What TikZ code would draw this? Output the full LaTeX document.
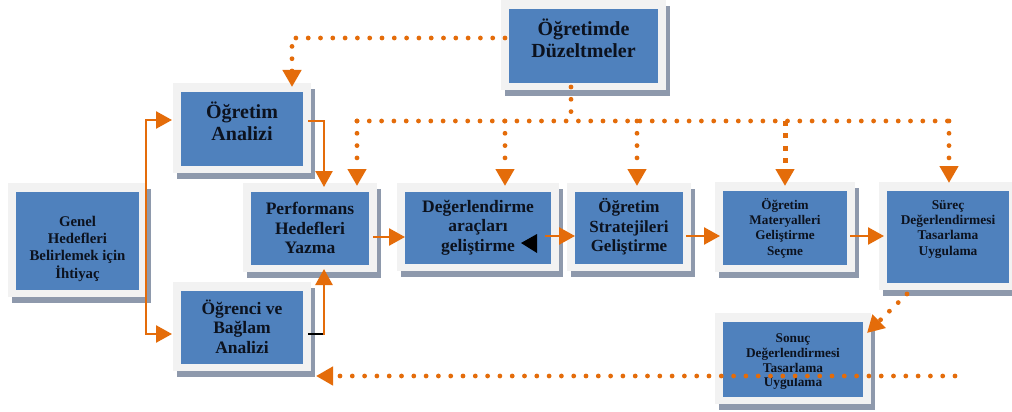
\documentclass[tikz,border=0pt]{standalone}
\usepackage{fontspec}
\setmainfont{Liberation Serif}
\usetikzlibrary{arrows.meta}
\definecolor{boxblue}{HTML}{4F81BD}
\definecolor{framec}{HTML}{F2F2F2}
\definecolor{shadowc}{RGB}{142,153,172}
\definecolor{org}{HTML}{E46C0A}
\definecolor{txtc}{RGB}{12,18,30}
\newcommand\lns[3]{\fontsize{#1}{#2}\selectfont\bfseries\begin{tabular}{@{}c@{}}#3\end{tabular}}
% name, x1, y1, x2, y2 (inner blue box), text raise, content
\newcommand\mkbox[7]{%
  \fill[shadowc] ({#2-8+4},{#3-9+6}) rectangle ({#4+8+4},{#5+7+6});
  \fill[framec] ({#2-8},{#3-9}) rectangle ({#4+8},{#5+7});
  \node[bluebox, minimum width={#4-#2}, minimum height={#5-#3}] (#1) at ({(#2+#4)/2},{(#3+#5)/2}) {\raisebox{#6}[\height][\depth]{#7}};
}
\tikzset{
  bluebox/.style={fill=boxblue, inner sep=0pt, outer sep=0pt, text=txtc, anchor=center},
  sarrow/.style={draw=org, line width=2.5pt, -{Triangle[length=16pt,width=17pt]}},
  darrow/.style={draw=org, line width=4.8pt, line cap=round, dash pattern=on 0pt off 12.3pt, -{Triangle[length=17pt,width=18pt]}},
  dline/.style={draw=org, line width=4.8pt, line cap=round, dash pattern=on 0pt off 12.3pt},
  sqarrow/.style={draw=org, line width=5pt, line cap=butt, dash pattern=on 5pt off 7.4pt, -{Triangle[length=17pt,width=18pt]}},
}
\begin{document}
\begin{tikzpicture}[x=1pt,y=-1pt]
\useasboundingbox (0,0) rectangle (1012,412);
\clip (0,0) rectangle (1012,412);
\fill[white] (0,0) rectangle (1012,412);

\mkbox{gen}{16}{192}{139}{290}{-8pt}{\lns{14.8}{17}{Genel\\Hedefleri\\Belirlemek için\\İhtiyaç}}
\mkbox{oa}{181}{92}{303}{166}{4.4pt}{\lns{20}{22}{Öğretim\\Analizi}}
\mkbox{pf}{251}{192}{369}{265}{-2pt}{\lns{17.5}{19.5}{Performans\\Hedefleri\\Yazma}}
\mkbox{ob}{181}{291}{303}{364}{-2pt}{\lns{17.5}{19.5}{Öğrenci ve\\Bağlam\\Analizi}}
\mkbox{dg}{405}{192}{551}{264}{0pt}{\lns{17.5}{19.5}{Değerlendirme\\araçları\\geliştirme}}
\mkbox{st}{575}{192}{683}{264}{0pt}{\lns{17}{19.5}{Öğretim\\Stratejileri\\Geliştirme}}
\mkbox{mt}{723}{191}{847}{265}{-1pt}{\lns{13.2}{15.3}{Öğretim\\Materyalleri\\Geliştirme\\Seçme}}
\mkbox{sr}{887}{191}{1009}{283}{8pt}{\lns{13.4}{15.3}{Süreç\\Değerlendirmesi\\Tasarlama\\Uygulama}}
\mkbox{sn}{723}{322}{863}{397}{-2.5pt}{\lns{13.3}{14.7}{Sonuç\\Değerlendirmesi\\Tasarlama\\Uygulama}}
\mkbox{dz}{509}{9}{658}{83}{4.4pt}{\lns{20}{22}{Öğretimde\\Düzeltmeler}}

% named points
\coordinate (brT) at (146,120);
\coordinate (brB) at (146,334);
\coordinate (bus) at (571,121);

% bracket from Genel to both analyses
\draw[draw=org, line width=2.5pt, {Triangle[length=16pt,width=17pt]}-{Triangle[length=16pt,width=17pt]}]
  (oa.west |- brT) ++(-9,0) -- (brT) -- (brB) -- ([xshift=-9pt]ob.west |- brB);

% Ogretim Analizi -> Performans
\draw[sarrow] ([xshift=5pt]oa.east |- 0,121) -- (324,121) -- (324,187);
% Ogrenci -> Performans
\draw[black, line width=1.5pt] ([xshift=5pt]ob.east |- brB) -- (323,334);
\draw[sarrow] (324,335) -- (324,269);

% chain
\draw[sarrow] (373,237) -- (dg.west |- 0,237);
\draw[sarrow] (545,236) -- (st.west |- 0,236);
\draw[sarrow] (686,236) -- (720,236);
\draw[sarrow] (850,236) -- (884,236);

% stray black arrowhead
\fill[black] (521,243) -- (537,234) -- (537,253) -- cycle;

% Duzeltmeler -> Ogretim Analizi
\draw[darrow] (505,38) -- (292,38) -- (292,87);
% Duzeltmeler -> bus
\draw[dline] (571,87) -- (bus);
\draw[dline] (357,121) -- (949,121);
\draw[darrow] (357,121) -- (357,186);
\draw[darrow] (505,121) -- (505,186);
\draw[darrow] (637,121) -- (637,186);
\draw[sqarrow] (785,121) -- (785,186);
\draw[darrow] (949,121) -- (949,183);

% Surec -> Sonuc
\draw[darrow] (907,294) -- (867,333);
% bottom return line
\draw[darrow] (955,376) -- (316,376);
\end{tikzpicture}
\end{document}
